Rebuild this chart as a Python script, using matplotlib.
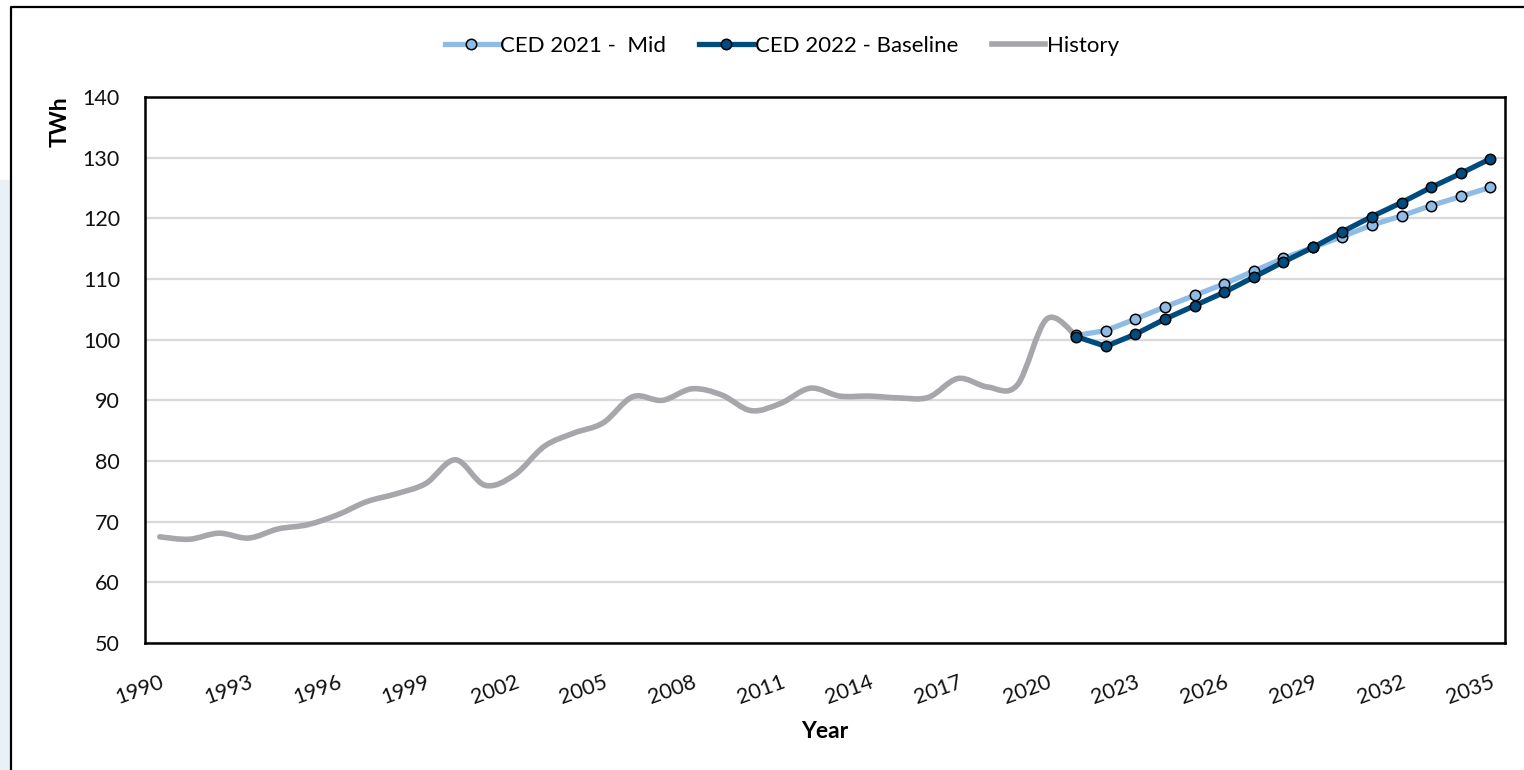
import numpy as np
import matplotlib
matplotlib.use("Agg")
import matplotlib.pyplot as plt
from matplotlib.path import Path
from matplotlib.patches import PathPatch, Rectangle
from matplotlib.lines import Line2D

plt.rcParams['font.family'] = ['Lato', 'DejaVu Sans']

# history, 1990-2021
hist_years = list(range(1990, 2022))
hist_vals = [67.5, 67.1, 68.1, 67.3, 68.8, 69.5, 71.1, 73.3, 74.6, 76.3,
             80.2, 76.0, 77.7, 82.4, 84.6, 86.3, 90.6, 90.0, 91.9, 90.9,
             88.3, 89.5, 92.0, 90.7, 90.7, 90.4, 90.5, 93.6, 92.2, 92.5,
             103.4, 100.6]

# forecasts, 2021-2035
fc_years = list(range(2021, 2036))
ced2021_mid = [100.7, 101.5, 103.4, 105.4, 107.3, 109.2, 111.3, 113.4,
               115.2, 117.0, 118.9, 120.4, 122.1, 123.6, 125.1]
ced2022_base = [100.5, 98.9, 100.9, 103.4, 105.6, 107.8, 110.3, 112.8,
                115.2, 117.8, 120.3, 122.6, 125.1, 127.4, 129.8]

tick_years = list(range(1990, 2036, 3))

light_blue = "#8fbce6"
dark_blue = "#004b7d"
grey = "#a6a6ab"


def smooth_path(xs, ys):
    # excel style smoothed line as cubic bezier segments
    pts = np.column_stack([xs, ys]).astype(float)
    n = len(pts)
    verts = [pts[0]]
    codes = [Path.MOVETO]
    for i in range(n - 1):
        p0 = pts[i - 1] if i > 0 else pts[i]
        p1 = pts[i]
        p2 = pts[i + 1]
        p3 = pts[i + 2] if i + 2 < n else pts[i + 1]
        c1 = p1 + (p2 - p0) / 6
        c2 = p2 - (p3 - p1) / 6
        verts += [c1, c2, p2]
        codes += [Path.CURVE4] * 3
    return Path(verts, codes)


fig = plt.figure(figsize=(15.24, 7.7), dpi=100)
ax = fig.add_axes([145 / 1524, 1 - 643 / 770, 1360 / 1524, 546 / 770])

hist_patch = PathPatch(smooth_path(hist_years, hist_vals), fill=False,
                       edgecolor=grey, lw=4.0, capstyle='round', zorder=2)
ax.add_patch(hist_patch)

ax.plot(fc_years, ced2021_mid, color=light_blue, lw=3.8, marker='o', ms=7.5,
        mfc=light_blue, mec='black', mew=1.1, zorder=3)
ax.plot(fc_years, ced2022_base, color=dark_blue, lw=3.8, marker='o', ms=7.5,
        mfc=dark_blue, mec='black', mew=1.1, zorder=4)

ax.set_xlim(1989.5, 2035.5)
ax.set_ylim(50, 140)
ax.set_yticks(range(50, 141, 10))
ax.set_xticks(tick_years)
ax.set_xticklabels([str(y) for y in tick_years], rotation=20, ha='right',
                   va='top', rotation_mode='anchor')
ax.tick_params(axis='both', length=0, labelsize=15.5, colors='#111111')
ax.tick_params(axis='y', pad=18)
ax.tick_params(axis='x', pad=21)
ax.yaxis.grid(True, color='#d9d9d9', lw=1.6)
ax.set_axisbelow(True)
for s in ax.spines.values():
    s.set_linewidth(1.8)
    s.set_color('black')

ax.set_xlabel("Year", fontsize=16.5, fontweight='bold', labelpad=9)
fig.text(60 / 1524, 1 - 122 / 770, "TWh", rotation=90, fontsize=16.5,
         fontweight='bold', ha='center', va='center')

handles = [
    Line2D([], [], color=light_blue, lw=3.8, marker='o', ms=7.5, mfc=light_blue,
           mec='black', mew=1.1),
    Line2D([], [], color=dark_blue, lw=3.8, marker='o', ms=7.5, mfc=dark_blue,
           mec='black', mew=1.1),
    Line2D([], [], color=grey, lw=4.0),
]
fig.legend(handles, ["CED 2021 -  Mid", "CED 2022 - Baseline", "History"],
           loc='center', bbox_to_anchor=(782 / 1524, 1 - 46 / 770), ncol=3,
           frameon=False, fontsize=16, handlelength=2.4, handletextpad=0.1,
           columnspacing=1.5)

# outer frame and the light strip on the left
fig.patches.append(Rectangle((0, 0), 10 / 1524, 1 - 180 / 770,
                             transform=fig.transFigure, color='#e9f1f7',
                             zorder=0))
fig.lines.append(Line2D([11 / 1524, 11 / 1524, 1], [0, 1 - 7 / 770, 1 - 7 / 770],
                        transform=fig.transFigure, color='black', lw=1.6))

fig.savefig("out.png", dpi=100)
